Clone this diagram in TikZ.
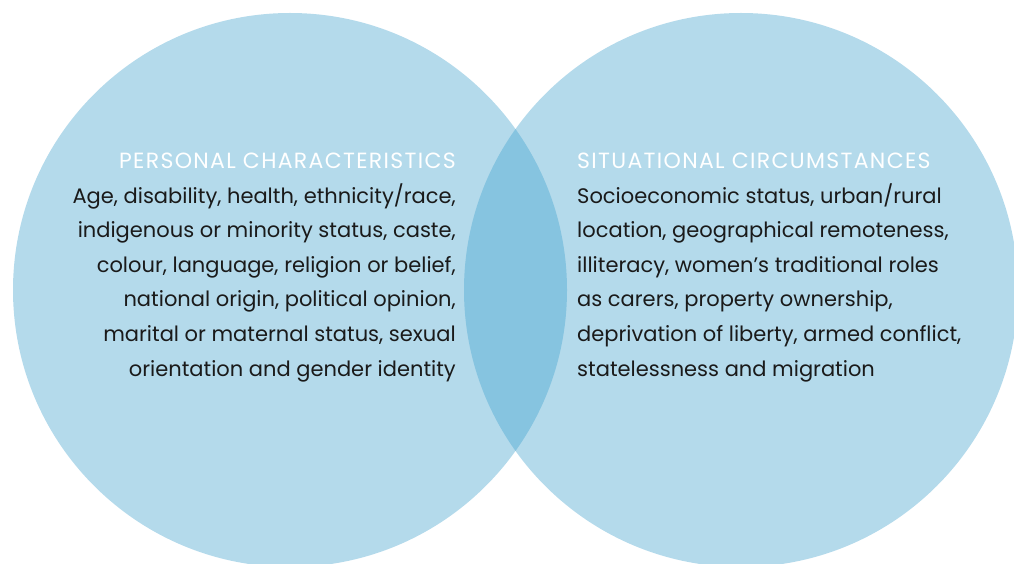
\documentclass[tikz,border=0pt]{standalone}
\usepackage{fontspec}
\setmainfont{Poppins}
\usetikzlibrary{positioning}
\definecolor{circblue}{HTML}{B4DAEB}
\definecolor{lensblue}{HTML}{86C4E0}
\definecolor{inkblack}{HTML}{1A1A1A}
\tikzset{
  headtext/.style={inner sep=0pt, text=white,
    font=\fontsize{22}{34.6}\selectfont\addfontfeatures{LetterSpace=6}},
  listtext/.style={inner sep=0pt, text=inkblack, font=\fontsize{21}{34.6}\selectfont}
}
\begin{document}
\begin{tikzpicture}[x=1pt,y=1pt]
\useasboundingbox (0,0) rectangle (1014,563);

% Drawing circle P (personal)
\fill [circblue] (290.0,273.0) circle (277.0);%

% Drawing circle S (situational)
\fill [circblue] (741.0,273.0) circle (277.0);%

% Drawing overlap of P and S
\begin{scope}
  \clip (290.0,273.0) circle (277.0);
  \fill [lensblue] (741.0,273.0) circle (277.0);%
\end{scope}

% Labels in circle P (base of a list node is its last line)
\node [headtext, anchor=base east] (perstitle) at (456.0,394.5) {PERSONAL CHARACTERISTICS};%
\node [listtext, anchor=base east, align=right] (perslist) at (456.0,187.0)
  {Age, disability, health, ethnicity/race,\\
   indigenous or minority status, caste,\\
   colour, language, religion or belief,\\
   national origin, political opinion,\\
   marital or maternal status, sexual\\
   orientation and gender identity};%

% Labels in circle S
\node [headtext, anchor=base west] (sittitle) at (577.0,394.5) {SITUATIONAL CIRCUMSTANCES};%
\node [listtext, anchor=base west, align=left] (sitlist) at (577.0,187.0)
  {Socioeconomic status, urban/rural\\
   location, geographical remoteness,\\
   illiteracy, women’s traditional roles\\
   as carers, property ownership,\\
   deprivation of liberty, armed conflict,\\
   statelessness and migration};%
\end{tikzpicture}
\end{document}
